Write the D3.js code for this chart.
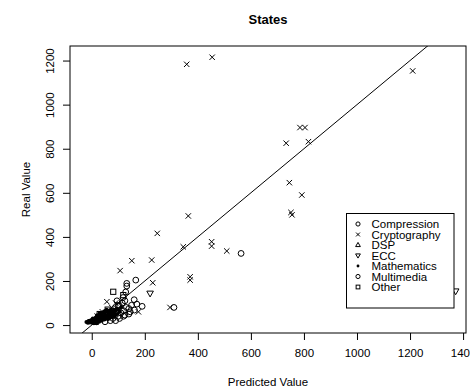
<!DOCTYPE html>
<html>
<head>
<meta charset="utf-8">
<script src="https://cdn.jsdelivr.net/npm/d3@7"></script>
<style>
body { margin: 0; background: #fff; }
text { font-family: "Liberation Sans", Arial, Helvetica, sans-serif; }
</style>
</head>
<body>
<script>
// points, [predicted, real]
var compression = [[563, 325], [310, 80], [190, 85], [170, 95], [145, 60], [125, 45], [105, 30], [160, 115]];
var cryptography = [[358, 1183], [454, 1215], [1210, 1153], [733, 825], [785, 896], [804, 896], [817, 832],
    [745, 646], [792, 590], [751, 511], [755, 500], [364, 495], [247, 416], [226, 295], [151, 292], [345, 355],
    [452, 378], [452, 358], [509, 336], [230, 192], [371, 219], [371, 204], [295, 80], [107, 247],
    [57, 106], [176, 60], [40, 60], [90, 100], [20, 40], [75, 80]];
var dsp = [[30, 35], [70, 60], [45, 50]];
var ecc = [[220, 144], [1372, 154], [10, 20]];
var mathematics = [[-10, 12], [-5, 15], [0, 10], [5, 18], [10, 14], [15, 22], [20, 20], [25, 28], [30, 25],
    [35, 32], [40, 30], [45, 40], [50, 35], [55, 45], [60, 42], [65, 50], [70, 48], [75, 55], [80, 60],
    [85, 52], [90, 65], [100, 70], [2, 25], [12, 30], [22, 35], [32, 45], [42, 55], [52, 60], [62, 65],
    [72, 70], [28, 15], [38, 20], [48, 25], [58, 30], [68, 38], [78, 42], [88, 45], [18, 8], [8, 8], [-15, 10],
    [-20, 14], [110, 80], [95, 75], [105, 60], [-8, 20], [0, 22], [6, 12], [14, 16], [24, 18], [34, 26],
    [44, 33], [54, 38], [64, 44], [74, 62], [84, 70], [36, 52], [26, 42], [16, 34], [46, 62], [56, 70],
    [66, 58], [76, 35], [86, 38], [96, 50], [-12, 18], [4, 30], [20, 45], [30, 55], [50, 48], [62, 28]];
var multimedia = [[20, 30], [40, 45], [60, 35], [80, 30], [100, 40], [110, 55], [120, 65], [130, 80], [140, 75],
    [150, 90], [105, 85], [115, 100], [125, 110], [132, 177], [132, 189], [166, 204], [161, 68], [90, 20],
    [70, 20], [50, 15], [120, 40], [140, 50], [95, 110], [128, 150], [118, 125]];
var other = [[81, 151], [119, 136], [30, 50], [60, 70], [100, 90], [15, 15]];

var legendNames = ["Compression", "Cryptography", "DSP", "ECC", "Mathematics", "Multimedia", "Other"];
var legendShapes = ["circle", "cross", "up", "down", "dot", "circle", "square"];
var xTicks = [0, 200, 400, 600, 800, 1000, 1200, 1400];
var yTicks = [0, 200, 400, 600, 800, 1000, 1200];

var svg = d3.select("body").append("svg")
    .attr("width", 470)
    .attr("height", 390);

var box = {left: 70, right: 466, top: 46, bottom: 333};

var xs = d3.scaleLinear().domain([-82, 1411]).range([box.left, box.right]);
var ys = d3.scaleLinear().domain([-36, 1266]).range([box.bottom, box.top]);

var all = [compression, cryptography, dsp, ecc, mathematics, multimedia, other];

svg.append("defs").append("clipPath").attr("id", "clip")
    .append("rect")
    .attr("x", box.left).attr("y", box.top)
    .attr("width", box.right - box.left).attr("height", box.bottom - box.top);

// y = x reference line
var lo = -100, hi = 1500;
svg.append("line")
    .attr("clip-path", "url(#clip)")
    .attr("x1", xs(lo)).attr("y1", ys(lo))
    .attr("x2", xs(hi)).attr("y2", ys(hi))
    .attr("stroke", "#000").attr("stroke-width", 1);

function drawShape(g, shape, k) {
    k = k || 1;
    if (shape === "circle") {
        g.append("circle").attr("r", 2.9 * k).attr("fill", "none").attr("stroke", "#000").attr("stroke-width", 1);
    } else if (shape === "cross") {
        var a = 2.7 * k;
        g.append("path").attr("d", "M" + -a + "," + -a + "L" + a + "," + a + "M" + -a + "," + a + "L" + a + "," + -a)
            .attr("stroke", "#000").attr("stroke-width", 1);
    } else if (shape === "up") {
        g.append("path").attr("d", "M0," + -3.6 * k + "L" + 3.3 * k + "," + 2.2 * k + "L" + -3.3 * k + "," + 2.2 * k + "Z")
            .attr("fill", "none").attr("stroke", "#000").attr("stroke-width", 1);
    } else if (shape === "down") {
        g.append("path").attr("d", "M0," + 3.6 * k + "L" + 3.3 * k + "," + -2.2 * k + "L" + -3.3 * k + "," + -2.2 * k + "Z")
            .attr("fill", "none").attr("stroke", "#000").attr("stroke-width", 1);
    } else if (shape === "dot") {
        g.append("circle").attr("r", 2 * k).attr("fill", "#000");
    } else if (shape === "square") {
        g.append("rect").attr("x", -2.6 * k).attr("y", -2.6 * k).attr("width", 5.2 * k).attr("height", 5.2 * k)
            .attr("fill", "none").attr("stroke", "#000").attr("stroke-width", 1);
    }
}

all.forEach(function (series, i) {
    svg.append("g").selectAll("g")
        .data(series)
        .enter()
        .append("g")
        .attr("transform", function (d) {
            return "translate(" + xs(d[0]) + "," + ys(d[1]) + ")";
        })
        .each(function () {
            drawShape(d3.select(this), legendShapes[i]);
        });
});

// box
svg.append("rect")
    .attr("x", box.left).attr("y", box.top)
    .attr("width", box.right - box.left).attr("height", box.bottom - box.top)
    .attr("fill", "none").attr("stroke", "#000").attr("stroke-width", 1);

var xAxis = svg.append("g")
    .attr("transform", "translate(0," + box.bottom + ")")
    .call(d3.axisBottom(xs).tickValues(xTicks).tickFormat(d3.format("d")).tickSize(7).tickPadding(9).tickSizeOuter(0));
xAxis.select(".domain").remove();
xAxis.selectAll("text").style("font-size", "11.5px").attr("fill", "#000").style("font-family", "Liberation Sans, Arial, sans-serif");

var yAxis = svg.append("g")
    .attr("transform", "translate(" + box.left + ",0)")
    .call(d3.axisLeft(ys).tickValues(yTicks).tickFormat(d3.format("d")).tickSize(7).tickSizeOuter(0));
yAxis.select(".domain").remove();
yAxis.selectAll("text")
    .attr("transform", "rotate(-90)")
    .attr("x", 0)
    .attr("y", -16)
    .attr("dy", 0)
    .attr("text-anchor", "middle")
    .attr("fill", "#000")
    .style("font-size", "11.5px")
    .style("font-family", "Liberation Sans, Arial, sans-serif");

// titles
svg.append("text")
    .attr("x", (box.left + box.right) / 2).attr("y", 24)
    .attr("text-anchor", "middle")
    .style("font-size", "13px").style("font-weight", "bold")
    .text("States");

svg.append("text")
    .attr("x", (box.left + box.right) / 2).attr("y", 386)
    .attr("text-anchor", "middle")
    .style("font-size", "11.5px")
    .text("Predicted Value");

svg.append("text")
    .attr("transform", "translate(30," + ((box.top + box.bottom) / 2) + ") rotate(-90)")
    .attr("text-anchor", "middle")
    .style("font-size", "11.5px")
    .text("Real Value");

// legend
var legend = svg.append("g");
legend.append("rect")
    .attr("x", 346.5).attr("y", 213.5)
    .attr("width", 107.5).attr("height", 94.5)
    .attr("fill", "#fff").attr("stroke", "#000").attr("stroke-width", 1);

legendNames.forEach(function (name, i) {
    var y = 224 + i * 10.5;
    var g = legend.append("g").attr("transform", "translate(358," + y + ")");
    drawShape(g, legendShapes[i], 0.72);
    legend.append("text")
        .attr("x", 371.5).attr("y", y + 4)
        .style("font-size", "11.5px")
        .text(name);
});
</script>
</body>
</html>
